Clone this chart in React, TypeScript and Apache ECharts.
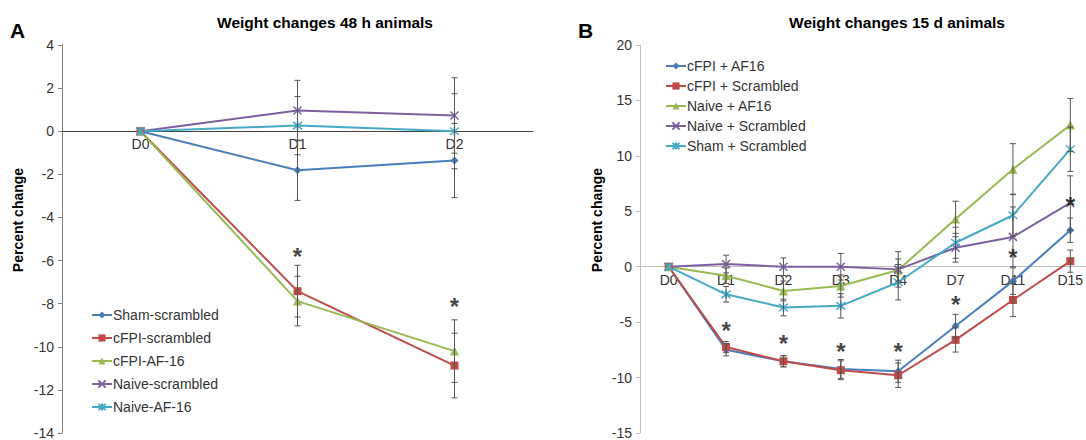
import React, { useEffect, useRef } from "react";
import * as echarts from "echarts";

// ---------- Panel A data ----------
const catA = ["D0", "D1", "D2"];
const namesA = ["Sham-scrambled", "cFPI-scrambled", "cFPI-AF-16", "Naive-scrambled", "Naive-AF-16"];
const shamScrA = [0, -1.81, -1.36];
const cfpiScrA = [0, -7.42, -10.87];
const cfpiAfA = [0, -7.88, -10.2];
const naiveScrA = [0, 0.96, 0.73];
const naiveAfA = [0, 0.26, 0];
const shamScrErrA = [0, 1.4, 1.72];
const cfpiScrErrA = [0, 1.2, 1.5];
const cfpiAfErrA = [0, 1.15, 1.45];
const naiveScrErrA = [0, 1.4, 1.75];
const naiveAfErrA = [0, 1.35, 1.74];
const starsA = [[1, -5.6], [2, -7.9]];
const yTicksA = { min: -14, max: 4, interval: 2 };

// ---------- Panel B data ----------
const catB = ["D0", "D1", "D2", "D3", "D4", "D7", "D11", "D15"];
const namesB = ["cFPI + AF16", "cFPI + Scrambled", "Naive + AF16", "Naive + Scrambled", "Sham + Scrambled"];
const cfpiAfB = [0, -7.49, -8.53, -9.22, -9.43, -5.35, -1.3, 3.29];
const cfpiScrB = [0, -7.25, -8.53, -9.34, -9.79, -6.6, -3.0, 0.5];
const naiveAfB = [0, -0.81, -2.19, -1.74, -0.3, 4.31, 8.8, 12.78];
const naiveScrB = [0, 0.24, 0, 0, -0.24, 1.71, 2.69, 5.75];
const shamScrB = [0, -2.49, -3.68, -3.53, -1.4, 2.16, 4.64, 10.6];
const cfpiAfErrB = [0, 0.55, 0.5, 0.85, 1.0, 1.05, 1.2, 1.1];
const cfpiScrErrB = [0, 0.5, 0.5, 0.85, 1.1, 1.1, 1.5, 1.0];
const naiveAfErrB = [0, 0.7, 0.9, 1.0, 1.0, 1.6, 2.3, 2.4];
const naiveScrErrB = [0, 0.8, 0.8, 1.2, 1.6, 1.3, 2.7, 2.45];
const shamScrErrB = [0, 0.7, 0.75, 1.1, 1.6, 1.4, 1.9, 2.0];
const starsB = [[1, -5.3], [2, -6.5], [3, -7.2], [4, -7.2], [5, -3.0], [6, 1.3], [7, 6.0]];
const yTicksB = { min: -15, max: 20, interval: 5 };

const COLORS = ["#4a7ebb", "#be4b48", "#98b954", "#7d60a0", "#46aac5"];
const SYM_X = "path://M0,0L10,10M10,0L0,10";
const SYM_STAR = "path://M0,0L10,10M10,0L0,10M5,-1L5,11";
const SYMBOLS = ["diamond", "rect", "triangle", SYM_X, SYM_STAR];
const SIZES = [8, 8, 9, 8, 9];
const FONT = "Liberation Sans";

function lineSeries(name: string, data: number[], i: number, axis: number) {
  const isPath = i >= 3;
  return {
    type: "line",
    name,
    data,
    xAxisIndex: axis,
    yAxisIndex: axis,
    symbol: SYMBOLS[i],
    symbolSize: SIZES[i],
    showSymbol: true,
    lineStyle: { color: COLORS[i], width: 2 },
    itemStyle: {
      color: COLORS[i],
      borderColor: COLORS[i],
      borderWidth: isPath ? 1.5 : 0,
    },
    z: 2,
  };
}

function errSeries(means: number[][], errs: number[][], axis: number) {
  const data: number[][] = [];
  means.forEach((m, s) => {
    m.forEach((v, k) => {
      const e = errs[s][k];
      if (e > 0) data.push([k, v - e, v + e]);
    });
  });
  return {
    type: "custom",
    xAxisIndex: axis,
    yAxisIndex: axis,
    silent: true,
    z: 3,
    data,
    encode: { x: 0, y: [1, 2] },
    renderItem: (params: any, api: any) => {
      const lo = api.coord([api.value(0), api.value(1)]);
      const hi = api.coord([api.value(0), api.value(2)]);
      const w = 3;
      const st = { stroke: "#555555", lineWidth: 1 };
      return {
        type: "group",
        children: [
          { type: "line", shape: { x1: lo[0], y1: lo[1], x2: hi[0], y2: hi[1] }, style: st },
          { type: "line", shape: { x1: lo[0] - w, y1: lo[1], x2: lo[0] + w, y2: lo[1] }, style: st },
          { type: "line", shape: { x1: hi[0] - w, y1: hi[1], x2: hi[0] + w, y2: hi[1] }, style: st },
        ],
      };
    },
  };
}

function starSeries(data: number[][], axis: number) {
  return {
    type: "scatter",
    xAxisIndex: axis,
    yAxisIndex: axis,
    data,
    symbol: "circle",
    symbolSize: 1,
    itemStyle: { color: "rgba(0,0,0,0)" },
    label: {
      show: true,
      formatter: "*",
      position: "inside",
      fontSize: 24,
      fontWeight: "bold",
      fontFamily: FONT,
      color: "#111",
      offset: [0, 5],
    },
    z: 4,
  };
}

export default function App() {
  const ref = useRef<HTMLDivElement>(null);
  useEffect(() => {
    document.body.style.margin = "0";
    const chart = echarts.init(ref.current!, null, { renderer: "svg" });
    const axisLabel = { color: "#333", fontSize: 14, fontFamily: FONT };
    const meansA = [shamScrA, cfpiScrA, cfpiAfA, naiveScrA, naiveAfA];
    const errsA = [shamScrErrA, cfpiScrErrA, cfpiAfErrA, naiveScrErrA, naiveAfErrA];
    const meansB = [cfpiAfB, cfpiScrB, naiveAfB, naiveScrB, shamScrB];
    const errsB = [cfpiAfErrB, cfpiScrErrB, naiveAfErrB, naiveScrErrB, shamScrErrB];
    const legendCommon = {
      orient: "vertical",
      itemWidth: 20,
      itemHeight: 9,
      textStyle: { color: "#333", fontSize: 14, fontFamily: FONT, padding: [0, 0, 0, -4] },
    };
    chart.setOption({
      animation: false,
      backgroundColor: "#fff",
      grid: [
        { left: 62, top: 45, width: 471, height: 388, outerBoundsMode: "none", containLabel: false },
        { left: 640, top: 45, width: 459, height: 388, outerBoundsMode: "none", containLabel: false },
      ],
      xAxis: [
        {
          type: "category",
          gridIndex: 0,
          data: catA,
          axisLine: { onZero: false, lineStyle: { color: "#404040", width: 1 } },
          axisTick: { lineStyle: { color: "#404040" }, length: 5 },
          axisLabel: { ...axisLabel, margin: 6 },
        },
        {
          type: "category",
          gridIndex: 1,
          data: catB,
          axisLine: { onZero: false, lineStyle: { color: "#bfbfbf", width: 1 } },
          axisTick: { lineStyle: { color: "#bfbfbf" }, length: 5 },
          axisLabel: { ...axisLabel, margin: 6 },
        },
      ],
      yAxis: [
        {
          type: "value",
          gridIndex: 0,
          ...yTicksA,
          axisLine: { show: true, lineStyle: { color: "#808080" } },
          axisTick: { show: true, lineStyle: { color: "#808080" }, length: 4 },
          splitLine: { show: false },
          axisLabel,
        },
        {
          type: "value",
          gridIndex: 1,
          ...yTicksB,
          axisLine: { show: true, lineStyle: { color: "#c0c0c0" } },
          axisTick: { show: true, lineStyle: { color: "#c0c0c0" }, length: 4 },
          splitLine: { show: false },
          axisLabel,
        },
      ],
      legend: [
        { ...legendCommon, left: 86, top: 303, itemGap: 9, data: namesA },
        { ...legendCommon, left: 660, top: 54, itemGap: 6, data: namesB },
      ],
      graphic: [
        { type: "text", x: 10, y: 30, style: { text: "A", fontSize: 21, fontWeight: "bold", fontFamily: FONT, fill: "#000", verticalAlign: "middle" } },
        { type: "text", x: 578, y: 30, style: { text: "B", fontSize: 21, fontWeight: "bold", fontFamily: FONT, fill: "#000", verticalAlign: "middle" } },
        { type: "text", x: 325, y: 22, style: { text: "Weight changes 48 h animals", fontSize: 15.5, fontWeight: "bold", fontFamily: FONT, fill: "#000", align: "center", verticalAlign: "middle" } },
        { type: "text", x: 897, y: 22, style: { text: "Weight changes 15 d animals", fontSize: 15.5, fontWeight: "bold", fontFamily: FONT, fill: "#000", align: "center", verticalAlign: "middle" } },
        { type: "text", x: 18, y: 220, rotation: Math.PI / 2, style: { text: "Percent change", fontSize: 14, fontWeight: "bold", fontFamily: FONT, fill: "#000", align: "center", verticalAlign: "middle" } },
        { type: "text", x: 597, y: 220, rotation: Math.PI / 2, style: { text: "Percent change", fontSize: 14, fontWeight: "bold", fontFamily: FONT, fill: "#000", align: "center", verticalAlign: "middle" } },
      ],
      series: [
        ...namesA.map((n, i) => lineSeries(n, meansA[i], i, 0)),
        ...namesB.map((n, i) => lineSeries(n, meansB[i], i, 1)),
        errSeries(meansA, errsA, 0),
        errSeries(meansB, errsB, 1),
        starSeries(starsA, 0),
        starSeries(starsB, 1),
      ],
    });
    // Move each category axis (line + labels) up to the value-axis zero, via the library's own scale
    const offA =
      (chart.convertToPixel({ yAxisIndex: 0 }, yTicksA.min) as number) -
      (chart.convertToPixel({ yAxisIndex: 0 }, 0) as number);
    const offB =
      (chart.convertToPixel({ yAxisIndex: 1 }, yTicksB.min) as number) -
      (chart.convertToPixel({ yAxisIndex: 1 }, 0) as number);
    chart.setOption({ xAxis: [{ offset: -offA }, { offset: -offB }] });
    return () => chart.dispose();
  }, []);
  return <div ref={ref} style={{ width: 1086, height: 440 }} />;
}
